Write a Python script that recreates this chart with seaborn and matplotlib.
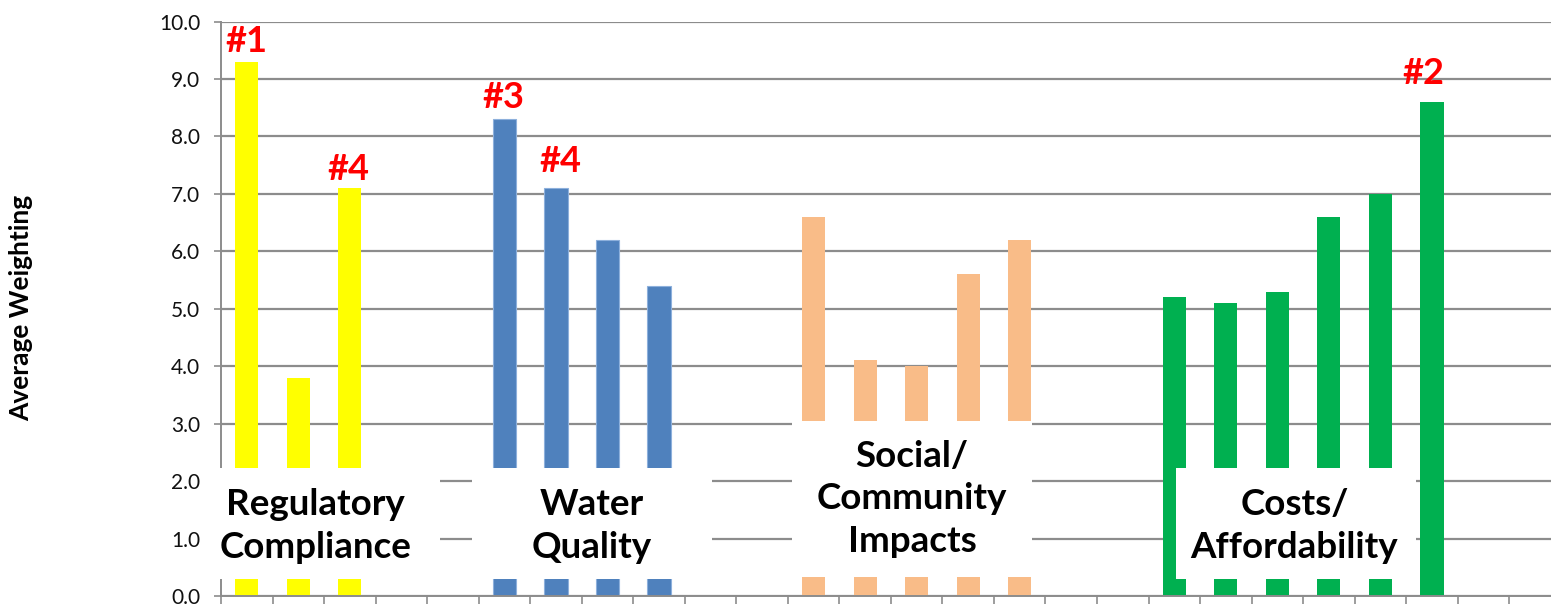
import matplotlib
matplotlib.use("Agg")
import matplotlib.pyplot as plt
from matplotlib.patches import Rectangle
import numpy as np
import pandas as pd
import seaborn as sns

# Slot positions along the x axis (26 slots, some left empty between groups)
reg_pos = [0, 1, 2]
wq_pos = [5, 6, 7, 8]
soc_pos = [11, 12, 13, 14, 15]
cost_pos = [18, 19, 20, 21, 22, 23]

# Average weighting of each criterion
reg_vals = [9.3, 3.8, 7.1]
wq_vals = [8.3, 7.1, 6.2, 5.4]
soc_vals = [6.6, 4.1, 4.0, 5.6, 6.2]
cost_vals = [5.2, 5.1, 5.3, 6.6, 7.0, 8.6]

group_names = ["Regulatory\nCompliance", "Water\nQuality",
               "Social/\nCommunity\nImpacts", "Costs/\nAffordability"]
group_colors = ["#FFFF00", "#4F81BD", "#F9BC88", "#00B050"]

# Rank annotations: (slot, label)
rank_slots = [0, 2, 5, 6, 23]
rank_labels = ["#1", "#4", "#3", "#4", "#2"]

y_ticks = [0, 1, 2, 3, 4, 5, 6, 7, 8, 9, 10]
n_slots = 26

positions = reg_pos + wq_pos + soc_pos + cost_pos
values = reg_vals + wq_vals + soc_vals + cost_vals
groups = ([group_names[0]] * len(reg_pos) + [group_names[1]] * len(wq_pos)
          + [group_names[2]] * len(soc_pos) + [group_names[3]] * len(cost_pos))
df = pd.DataFrame({"slot": positions, "value": values, "group": groups})

sns.set_theme(style="white")
plt.rcParams["font.family"] = ["Lato", "DejaVu Sans"]

fig = plt.figure(figsize=(15.51, 6.04), dpi=100)
ax = fig.add_axes([221 / 1551, 8 / 604, 1330 / 1551, 574.5 / 604])

sns.barplot(data=df, x="slot", y="value", hue="group", native_scale=True,
            palette=dict(zip(group_names, group_colors)), dodge=False,
            width=0.45, legend=False, ax=ax, saturation=1, linewidth=0)

# Thin lighter outline on the blue bars
for p in ax.patches:
    fc = p.get_facecolor()
    if abs(fc[0] - 0x4F / 255) < 0.01 and abs(fc[2] - 0xBD / 255) < 0.01:
        p.set_edgecolor("#8DB0DC")
        p.set_linewidth(0.8)

ax.set_xlim(-0.5, 25.31)
ax.set_ylim(0, 10)

grid_col = "#8C8C8C"
ax.set_axisbelow(True)
ax.yaxis.grid(True, color=grid_col, linewidth=1.6)
ax.xaxis.grid(False)
ax.set_yticks(y_ticks)
ax.set_yticklabels([f"{v:.1f}" for v in y_ticks], fontsize=15, color="#111111")
ax.set_xticks(np.arange(n_slots) - 0.5)
ax.set_xticklabels([])
ax.tick_params(axis="y", direction="out", length=5, width=1.2, color=grid_col,
               left=True, pad=10)
ax.tick_params(axis="x", direction="out", length=6, width=1.2, color=grid_col,
               bottom=True)
for side in ["top", "right"]:
    ax.spines[side].set_visible(False)
for side in ["left", "bottom"]:
    ax.spines[side].set_color(grid_col)
    ax.spines[side].set_linewidth(1.4)

ax.set_xlabel("")
ax.set_ylabel("Average Weighting", fontsize=19, fontweight="bold", color="black")
ax.yaxis.set_label_coords(-0.1414, 0.501)

# White label boxes laid over the bars, with the group names
box_specs = [(-0.73, 3.75, 0.30, 2.23), (4.37, 9.03, 0.30, 2.23),
             (10.58, 15.24, 0.33, 3.05), (18.04, 22.69, 0.30, 2.22)]
label_xy = [(1.34, 1.22), (6.70, 1.22), (12.91, 1.69), (20.33, 1.22)]
for (x0, x1, y0, y1), (tx, ty), name in zip(box_specs, label_xy, group_names):
    ax.add_patch(Rectangle((x0, y0), x1 - x0, y1 - y0, facecolor="white",
                           edgecolor="none", zorder=3, clip_on=False))
    ax.text(tx, ty, name, ha="center", va="center", fontsize=26.5,
            fontweight="bold", color="black", linespacing=1.35, zorder=4)

# Rank markers above selected bars
slot_to_val = dict(zip(positions, values))
rank_dy = [4, 2, 5, 10, 12]
rank_dx = [0, -1, -1, 4, -9]
for s, lab, dy, dx in zip(rank_slots, rank_labels, rank_dy, rank_dx):
    ax.annotate(lab, xy=(s, slot_to_val[s]), xytext=(dx * 0.72, dy * 0.72),
                textcoords="offset points", ha="center", va="bottom",
                fontsize=26, fontweight="bold", color="#FF0000", zorder=5)

fig.savefig("out.png", dpi=100)
